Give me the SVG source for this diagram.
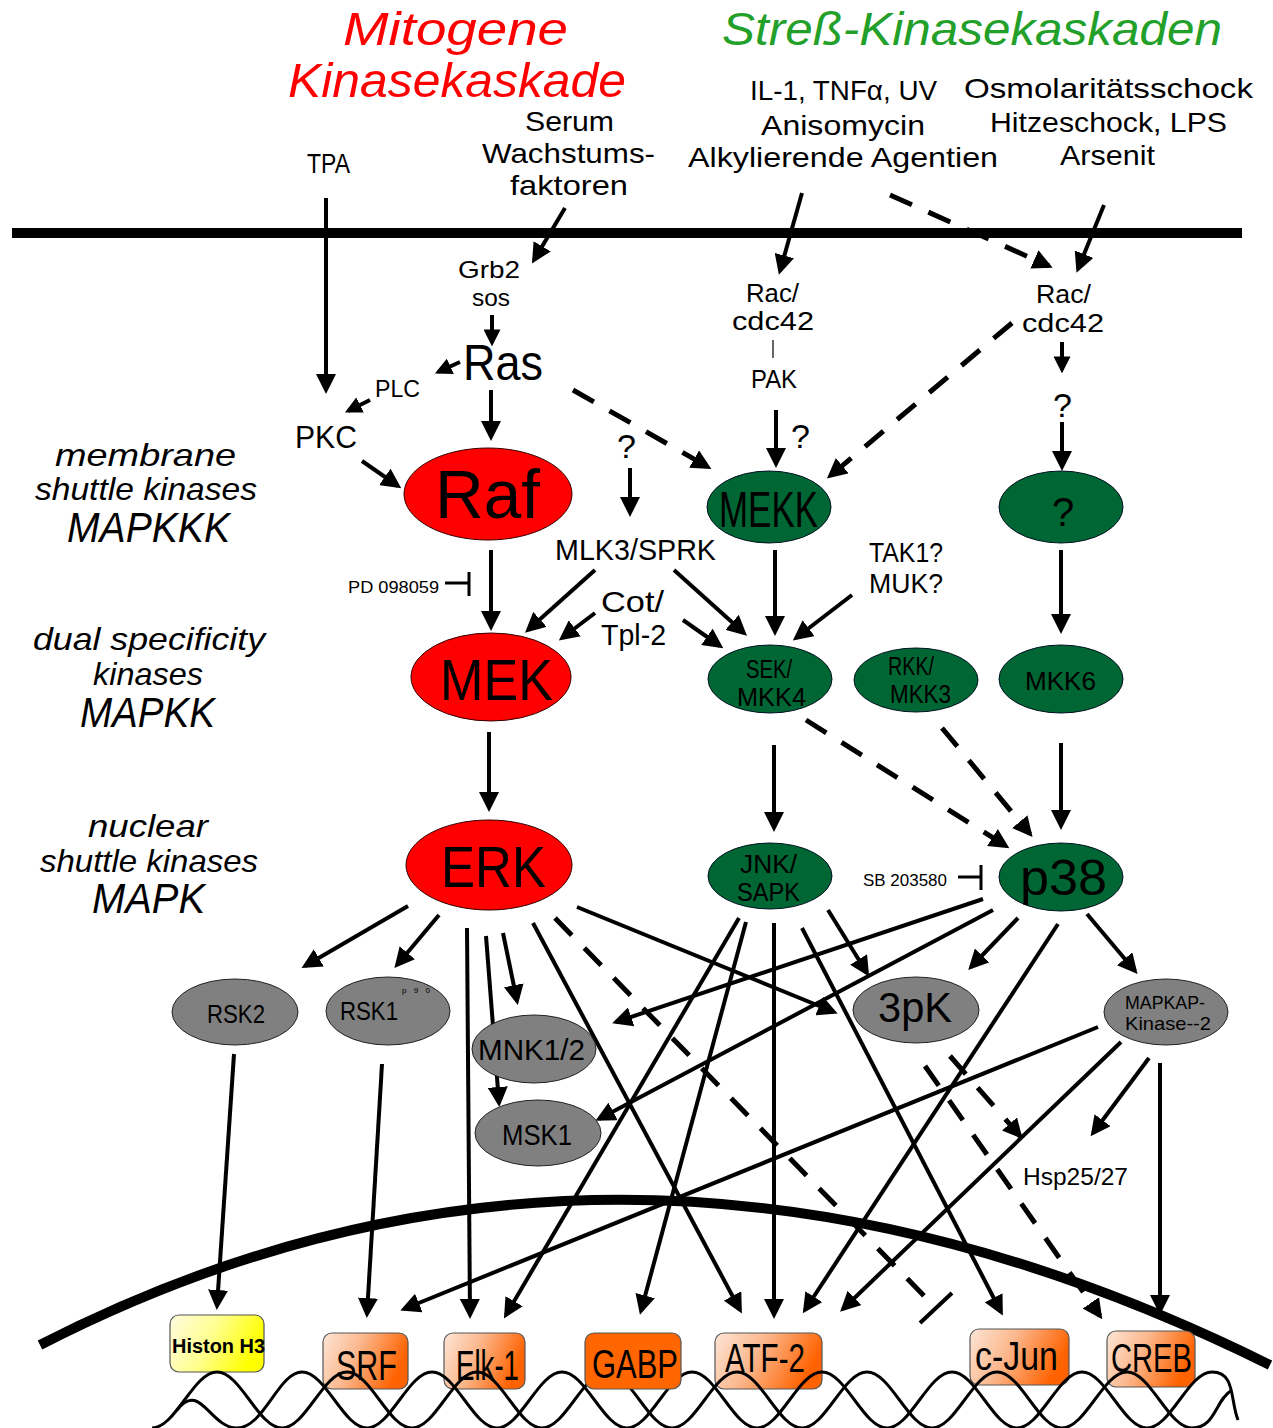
<svg xmlns="http://www.w3.org/2000/svg" width="1273" height="1428" viewBox="0 0 1273 1428">
<style>
text{font-family:"Liberation Sans",Arial,sans-serif;fill:#000}
.t{font-style:italic}
.c{stroke:#000;stroke-width:4;fill:none}
.a{marker-end:url(#ah)}
.s{marker-end:url(#ahs)}
.d{stroke-dasharray:24 18;stroke-width:5}
.red{fill:#ff0000;stroke:#300;stroke-width:1}
.grn{fill:#006633;stroke:#012;stroke-width:1}
.gry{fill:#808080;stroke:#222;stroke-width:1}
.box{stroke:#555;stroke-width:1.2}
</style>
<defs>
<marker id="ah" viewBox="0 0 20 20" refX="16" refY="10" markerWidth="20" markerHeight="20" markerUnits="userSpaceOnUse" orient="auto"><path d="M0,0 L20,10 L0,20 z" fill="#000"/></marker>
<marker id="ahs" viewBox="0 0 20 20" refX="16" refY="10" markerWidth="17" markerHeight="17" markerUnits="userSpaceOnUse" orient="auto"><path d="M0,0 L20,10 L0,20 z" fill="#000"/></marker>
<linearGradient id="og" x1="0" y1="0" x2="1" y2="0.3"><stop offset="0" stop-color="#fde6d6"/><stop offset="0.45" stop-color="#fbb88e"/><stop offset="1" stop-color="#ff6200"/></linearGradient>
<linearGradient id="yg" x1="0" y1="0" x2="1" y2="0.3"><stop offset="0" stop-color="#fffbe0"/><stop offset="0.5" stop-color="#ffff90"/><stop offset="1" stop-color="#ffff00"/></linearGradient>
</defs>
<rect width="1273" height="1428" fill="#fff"/>

<g id="titles">
<text class="t" x="343" y="45" font-size="46" style="fill:#ff0000" textLength="225" lengthAdjust="spacingAndGlyphs">Mitogene</text>
<text class="t" x="288" y="97" font-size="48" style="fill:#ff0000" textLength="338" lengthAdjust="spacingAndGlyphs">Kinasekaskade</text>
<text class="t" x="722" y="45" font-size="46" style="fill:#22a02a" textLength="500" lengthAdjust="spacingAndGlyphs">Streß-Kinasekaskaden</text>
</g>

<g id="stimuli" font-size="28">
<text x="307" y="173" textLength="43" lengthAdjust="spacingAndGlyphs">TPA</text>
<text x="525" y="131" textLength="89" lengthAdjust="spacingAndGlyphs">Serum</text>
<text x="482" y="163" textLength="173" lengthAdjust="spacingAndGlyphs">Wachstums-</text>
<text x="510" y="195" textLength="118" lengthAdjust="spacingAndGlyphs">faktoren</text>
<text x="750" y="100" textLength="187" lengthAdjust="spacingAndGlyphs">IL-1, TNFα, UV</text>
<text x="761" y="135" textLength="164" lengthAdjust="spacingAndGlyphs">Anisomycin</text>
<text x="688" y="167" textLength="310" lengthAdjust="spacingAndGlyphs">Alkylierende Agentien</text>
<text x="964" y="98" textLength="289" lengthAdjust="spacingAndGlyphs">Osmolaritätsschock</text>
<text x="990" y="132" textLength="237" lengthAdjust="spacingAndGlyphs">Hitzeschock, LPS</text>
<text x="1060" y="165" textLength="95" lengthAdjust="spacingAndGlyphs">Arsenit</text>
</g>

<g id="levels" class="t" font-size="32">
<text class="t" x="55" y="466" textLength="181" lengthAdjust="spacingAndGlyphs">membrane</text>
<text class="t" x="35" y="500" textLength="222" lengthAdjust="spacingAndGlyphs">shuttle kinases</text>
<text class="t" x="67" y="542" font-size="42" textLength="163" lengthAdjust="spacingAndGlyphs">MAPKKK</text>
<text class="t" x="33" y="650" textLength="232" lengthAdjust="spacingAndGlyphs">dual specificity</text>
<text class="t" x="93" y="685" textLength="110" lengthAdjust="spacingAndGlyphs">kinases</text>
<text class="t" x="80" y="727" font-size="42" textLength="135" lengthAdjust="spacingAndGlyphs">MAPKK</text>
<text class="t" x="88" y="837" textLength="120" lengthAdjust="spacingAndGlyphs">nuclear</text>
<text class="t" x="40" y="872" textLength="218" lengthAdjust="spacingAndGlyphs">shuttle kinases</text>
<text class="t" x="92" y="913" font-size="42" textLength="113" lengthAdjust="spacingAndGlyphs">MAPK</text>
</g>

<g id="cell-membrane"><line x1="12" y1="233" x2="1242" y2="233" stroke="#000" stroke-width="10"/></g>

<g id="connectors">
<path class="c a" d="M326,198 L326,390"/>
<path class="c a" d="M565,208 L534,260"/>
<path class="c s" d="M492,315 L492,343"/>
<path class="c s" d="M460,362 L438,372"/>
<path class="c s" d="M370,400 L348,411"/>
<path class="c a" d="M362,461 L398,486"/>
<path class="c a" d="M491,390 L491,437"/>
<path class="c d a" d="M573,390 L708,467"/>
<path class="c a" d="M630,468 L630,513"/>
<path class="c a" d="M802,193 L780,271"/>
<path class="c d a" d="M890,195 L1049,266"/>
<path class="c a" d="M1104,205 L1078,269"/>
<path class="c d a" d="M1012,323 L830,476"/>
<path class="c s" d="M1062,342 L1062,370"/>
<path class="c a" d="M1062,422 L1062,467"/>
<path class="c a" d="M776,410 L776,464"/>
<path d="M773,340 L773,358" stroke="#000" stroke-width="1.2"/>
<path class="c a" d="M491,550 L491,627"/>
<path class="c" style="stroke-width:3" d="M445,583 L469,583 M469,572 L469,596"/>
<path class="c a" d="M595,570 L528,630"/>
<path class="c a" d="M674,570 L744,633"/>
<path class="c a" d="M595,613 L562,638"/>
<path class="c a" d="M683,620 L720,646"/>
<path class="c a" d="M775,550 L775,632"/>
<path class="c a" d="M852,595 L796,638"/>
<path class="c a" d="M1061,550 L1061,630"/>
<path class="c a" d="M489,732 L489,808"/>
<path class="c a" d="M774,745 L774,828"/>
<path class="c d a" d="M806,720 L1006,846"/>
<path class="c d a" d="M942,728 L1030,834"/>
<path class="c a" d="M1061,743 L1061,826"/>
<path class="c" style="stroke-width:3" d="M958,877 L981,877 M981,865 L981,890"/>
<path class="c a" d="M408,906 L305,966"/>
<path class="c a" d="M439,915 L397,965"/>
<path class="c a" d="M467,928 L470,1315"/>
<path class="c a" d="M486,936 L499,1103"/>
<path class="c a" d="M503,933 L517,1001"/>
<path class="c a" d="M533,923 L740,1310"/>
<path class="c d" d="M555,918 L936,1308"/>
<path class="c" d="M920,1323 L952,1293"/>
<path class="c a" d="M577,907 L834,1012"/>
<path class="c a" d="M828,910 L867,973"/>
<path class="c a" d="M739,918 L506,1315"/>
<path class="c a" d="M746,922 L641,1311"/>
<path class="c a" d="M774,923 L774,1315"/>
<path class="c a" d="M802,928 L1001,1312"/>
<path class="c a" d="M983,899 L616,1022"/>
<path class="c a" d="M993,910 L599,1119"/>
<path class="c a" d="M1018,918 L971,967"/>
<path class="c a" d="M1058,924 L805,1310"/>
<path class="c a" d="M1087,914 L1135,971"/>
<path class="c a" d="M1098,1027 L404,1309"/>
<path class="c a" d="M1121,1042 L843,1309"/>
<path class="c d a" d="M950,1056 L1020,1136"/>
<path class="c a" d="M1149,1058 L1093,1133"/>
<path class="c a" d="M1160,1063 L1160,1311"/>
<path class="c a" d="M234,1054 L217,1306"/>
<path class="c a" d="M382,1064 L367,1314"/>
<path class="c d a" d="M925,1066 L1100,1316"/>
</g>

<g id="nuclear-membrane"><path d="M40,1345 Q625,1045 1270,1365" fill="none" stroke="#000" stroke-width="10"/></g>

<g id="Grb2"><text x="458" y="278" font-size="24" textLength="62" lengthAdjust="spacingAndGlyphs">Grb2</text><text x="472" y="306" font-size="24" textLength="38" lengthAdjust="spacingAndGlyphs">sos</text></g>
<g id="Ras"><text x="463" y="380" font-size="50" textLength="80" lengthAdjust="spacingAndGlyphs">Ras</text></g>
<g id="PLC"><text x="375" y="397" font-size="24" textLength="45" lengthAdjust="spacingAndGlyphs">PLC</text></g>
<g id="PKC"><text x="295" y="448" font-size="32" textLength="62" lengthAdjust="spacingAndGlyphs">PKC</text></g>
<g id="Rac1"><text x="746" y="302" font-size="25" textLength="53" lengthAdjust="spacingAndGlyphs">Rac/</text><text x="732" y="330" font-size="25" textLength="82" lengthAdjust="spacingAndGlyphs">cdc42</text></g>
<g id="PAK"><text x="751" y="388" font-size="25" textLength="46" lengthAdjust="spacingAndGlyphs">PAK</text></g>
<g id="Rac2"><text x="1036" y="303" font-size="25" textLength="55" lengthAdjust="spacingAndGlyphs">Rac/</text><text x="1022" y="332" font-size="25" textLength="82" lengthAdjust="spacingAndGlyphs">cdc42</text></g>
<g id="questions" font-size="34"><text x="617" y="458">?</text><text x="791" y="448">?</text><text x="1053" y="417">?</text></g>
<g id="MLK3"><text x="555" y="560" font-size="30" textLength="161" lengthAdjust="spacingAndGlyphs">MLK3/SPRK</text></g>
<g id="TAK1"><text x="869" y="562" font-size="28" textLength="74" lengthAdjust="spacingAndGlyphs">TAK1?</text><text x="869" y="593" font-size="28" textLength="74" lengthAdjust="spacingAndGlyphs">MUK?</text></g>
<g id="Cot"><text x="601" y="612" font-size="30" textLength="63" lengthAdjust="spacingAndGlyphs">Cot/</text><text x="601" y="645" font-size="30" textLength="65" lengthAdjust="spacingAndGlyphs">Tpl-2</text></g>
<g id="PD098059"><text x="348" y="593" font-size="16" textLength="91" lengthAdjust="spacingAndGlyphs">PD 098059</text></g>
<g id="SB203580"><text x="863" y="886" font-size="17" textLength="84" lengthAdjust="spacingAndGlyphs">SB 203580</text></g>
<g id="Hsp"><text x="1023" y="1185" font-size="24" textLength="105" lengthAdjust="spacingAndGlyphs">Hsp25/27</text></g>

<g id="Raf"><ellipse class="red" cx="488" cy="494" rx="84" ry="46"/><text x="435" y="518" font-size="68" textLength="105" lengthAdjust="spacingAndGlyphs">Raf</text></g>
<g id="MEKK"><ellipse class="grn" cx="769" cy="507" rx="62" ry="36"/><text x="719" y="527" font-size="50" textLength="99" lengthAdjust="spacingAndGlyphs">MEKK</text></g>
<g id="Q"><ellipse class="grn" cx="1061" cy="507" rx="62" ry="36"/><text x="1052" y="526" font-size="40">?</text></g>
<g id="MEK"><ellipse class="red" cx="491" cy="677" rx="80" ry="44"/><text x="440" y="700" font-size="58" textLength="113" lengthAdjust="spacingAndGlyphs">MEK</text></g>
<g id="SEK"><ellipse class="grn" cx="770" cy="679" rx="62" ry="34"/><text x="746" y="678" font-size="26" textLength="46" lengthAdjust="spacingAndGlyphs">SEK/</text><text x="737" y="706" font-size="26" textLength="69" lengthAdjust="spacingAndGlyphs">MKK4</text></g>
<g id="RKK"><ellipse class="grn" cx="916" cy="680" rx="62" ry="32"/><text x="888" y="675" font-size="26" textLength="46" lengthAdjust="spacingAndGlyphs">RKK/</text><text x="890" y="703" font-size="26" textLength="61" lengthAdjust="spacingAndGlyphs">MKK3</text></g>
<g id="MKK6"><ellipse class="grn" cx="1061" cy="679" rx="62" ry="34"/><text x="1025" y="690" font-size="26" textLength="71" lengthAdjust="spacingAndGlyphs">MKK6</text></g>
<g id="ERK"><ellipse class="red" cx="489" cy="865" rx="83" ry="45"/><text x="441" y="887" font-size="58" textLength="105" lengthAdjust="spacingAndGlyphs">ERK</text></g>
<g id="JNK"><ellipse class="grn" cx="770" cy="876" rx="62" ry="33"/><text x="740" y="873" font-size="26" textLength="57" lengthAdjust="spacingAndGlyphs">JNK/</text><text x="737" y="901" font-size="26" textLength="63" lengthAdjust="spacingAndGlyphs">SAPK</text></g>
<g id="p38"><ellipse class="grn" cx="1061" cy="877" rx="62" ry="34"/><text x="1020" y="895" font-size="50" textLength="87" lengthAdjust="spacingAndGlyphs">p38</text></g>
<g id="RSK2"><ellipse class="gry" cx="235" cy="1012" rx="63" ry="33"/><text x="207" y="1023" font-size="26" textLength="58" lengthAdjust="spacingAndGlyphs">RSK2</text></g>
<g id="RSK1"><ellipse class="gry" cx="388" cy="1011" rx="62" ry="34"/><text x="340" y="1020" font-size="26" textLength="58" lengthAdjust="spacingAndGlyphs">RSK1</text><text x="402" y="993" font-size="8" textLength="28" lengthAdjust="spacing">p90</text></g>
<g id="MNK"><ellipse class="gry" cx="534" cy="1049" rx="62" ry="34"/><text x="478" y="1060" font-size="30" textLength="107" lengthAdjust="spacingAndGlyphs">MNK1/2</text></g>
<g id="MSK1"><ellipse class="gry" cx="538" cy="1133" rx="63" ry="33"/><text x="502" y="1145" font-size="30" textLength="70" lengthAdjust="spacingAndGlyphs">MSK1</text></g>
<g id="p3pK"><ellipse class="gry" cx="916" cy="1010" rx="63" ry="33"/><text x="878" y="1022" font-size="42" textLength="74" lengthAdjust="spacingAndGlyphs">3pK</text></g>
<g id="MAPKAP"><ellipse class="gry" cx="1166" cy="1012" rx="62" ry="33"/><text x="1125" y="1009" font-size="19" textLength="80" lengthAdjust="spacingAndGlyphs">MAPKAP-</text><text x="1125" y="1030" font-size="19" textLength="86" lengthAdjust="spacingAndGlyphs">Kinase--2</text></g>

<g id="Histon"><rect class="box" x="170" y="1315" width="94" height="57" rx="9" fill="url(#yg)"/><text x="172" y="1353" font-size="20" font-weight="bold" textLength="93" lengthAdjust="spacingAndGlyphs">Histon H3</text></g>
<g id="SRF"><rect class="box" x="323" y="1333" width="85" height="56" rx="9" fill="url(#og)"/><text x="336" y="1380" font-size="42" textLength="61" lengthAdjust="spacingAndGlyphs">SRF</text></g>
<g id="Elk1"><rect class="box" x="444" y="1333" width="81" height="56" rx="9" fill="url(#og)"/><text x="456" y="1380" font-size="42" textLength="63" lengthAdjust="spacingAndGlyphs">Elk-1</text></g>
<g id="ATF2"><rect class="box" x="715" y="1333" width="107" height="56" rx="9" fill="url(#og)"/><text x="725" y="1372" font-size="40" textLength="80" lengthAdjust="spacingAndGlyphs">ATF-2</text></g>
<g id="cJun"><rect class="box" x="970" y="1329" width="99" height="56" rx="9" fill="url(#og)"/><text x="975" y="1370" font-size="40" textLength="83" lengthAdjust="spacingAndGlyphs">c-Jun</text></g>
<g id="CREB"><rect class="box" x="1107" y="1331" width="88" height="56" rx="9" fill="url(#og)"/><text x="1111" y="1372" font-size="40" textLength="81" lengthAdjust="spacingAndGlyphs">CREB</text></g>

<g id="DNA" fill="none" stroke="#000" stroke-width="3">
<path d="M152,1428 C175.6,1428 193.4,1372 217,1372 S258.4,1428 282,1428 S323.4,1372 347,1372 S388.4,1428 412,1428 S453.4,1372 477,1372 S518.4,1428 542,1428 S583.4,1372 607,1372 S648.4,1428 672,1428 S713.4,1372 737,1372 S778.4,1428 802,1428 S843.4,1372 867,1372 S908.4,1428 932,1428 S973.4,1372 997,1372 S1038.4,1428 1062,1428 S1103.4,1372 1127,1372 S1168.4,1428 1192,1428 S1215,1400 1232,1390"/>
<path d="M177,1410 C200,1380 210,1428 237,1428 S278.4,1372 302,1372 S343.4,1428 367,1428 S408.4,1372 432,1372 S473.4,1428 497,1428 S538.4,1372 562,1372 S603.4,1428 627,1428 S668.4,1372 692,1372 S733.4,1428 757,1428 S798.4,1372 822,1372 S863.4,1428 887,1428 S928.4,1372 952,1372 S993.4,1428 1017,1428 S1058.4,1372 1082,1372 S1123.4,1428 1147,1428 S1188.4,1372 1212,1372 S1230,1400 1238,1420"/>
</g>
<g id="GABP"><rect class="box" x="585" y="1333" width="96" height="56" rx="9" fill="#ff6600"/><text x="592" y="1378" font-size="40" textLength="86" lengthAdjust="spacingAndGlyphs">GABP</text></g>
</svg>
